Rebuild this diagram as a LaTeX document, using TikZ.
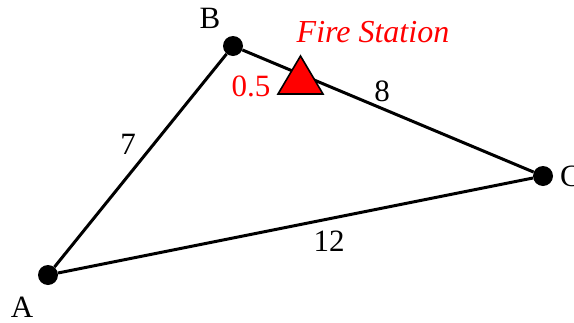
\documentclass[tikz,border=0pt]{standalone}
\usepackage{fontspec}
\setmainfont{Liberation Serif}
\tikzset{
  vertex/.style={circle,fill=black,draw=none,minimum size=20pt,inner sep=0pt},
  edge/.style={draw=black,line width=3pt},
  lab/.style={inner sep=0pt,font=\fontsize{31}{31}\selectfont,text=black},
  redlab/.style={lab,text=red}
}
\begin{document}
\begin{tikzpicture}[x=1pt,y=-1pt]
\useasboundingbox (0,0) rectangle (574,322);
\node[vertex] (A) at (48,275) {};
\node[vertex] (B) at (233,46) {};
\node[vertex] (C) at (543,176) {};
\draw[edge] (A) -- (B);
\draw[edge] (B) -- (C);
\draw[edge] (C) -- (A);
\coordinate (t1) at (278,94);
\coordinate (t2) at (323,94);
\coordinate (t3) at (300.5,56);
\draw[fill=red,draw=black,line width=1.6pt] (t1) -- (t2) -- (t3) -- cycle;
\node[lab] at (210,18) {B};
\node[lab] at (22,307) {A};
\node[lab,anchor=west] at (560,176) {C};
\node[lab] at (128,144) {7};
\node[lab] at (382,91) {8};
\node[lab] at (329,241) {12};
\node[redlab] at (251,86) {0.5};
\node[redlab,font=\fontsize{32}{32}\selectfont] at (373,32) {\itshape Fire Station};
\end{tikzpicture}
\end{document}
